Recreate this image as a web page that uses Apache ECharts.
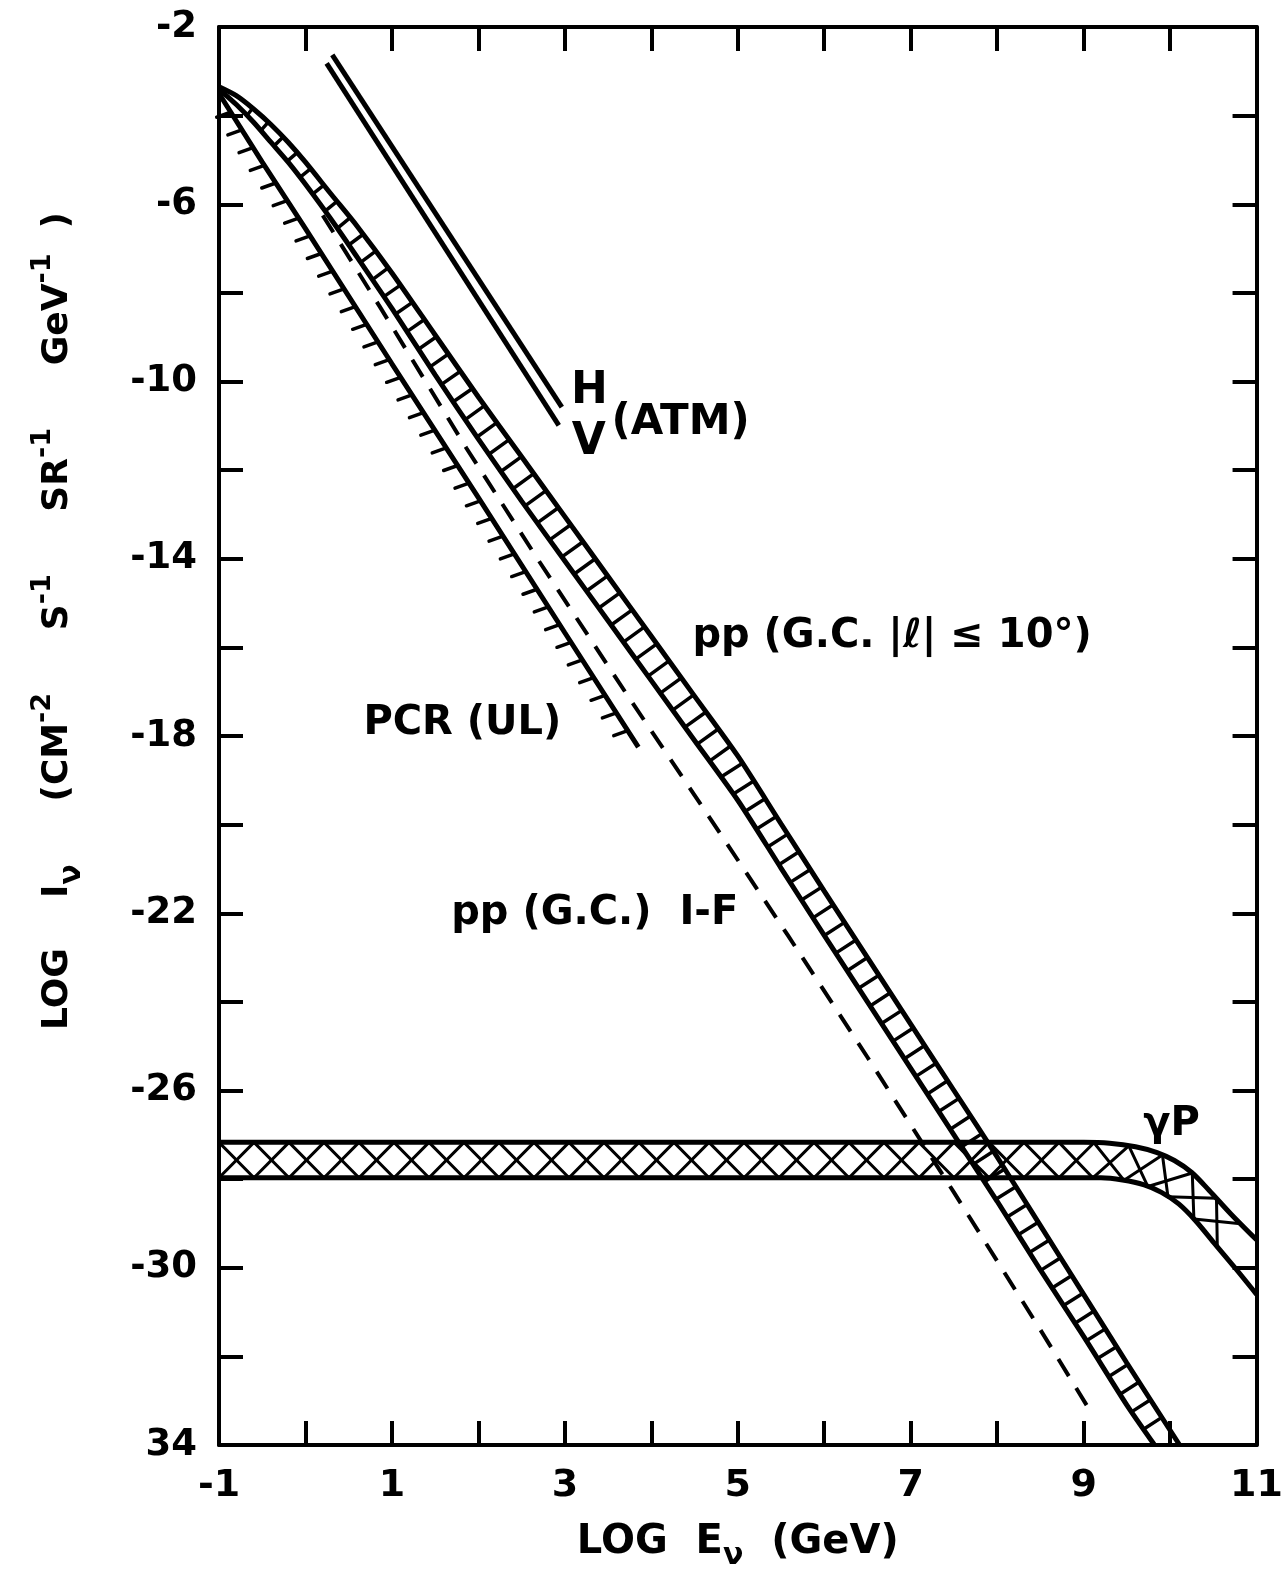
<!DOCTYPE html>
<html>
<head>
<meta charset="utf-8">
<script src="https://cdn.jsdelivr.net/npm/echarts@6/dist/echarts.min.js"></script>
<style>
  html, body { margin:0; padding:0; background:#fff; }
  #chart { width:1286px; height:1576px; }
</style>
</head>
<body>
<div id="chart"></div>
<script>
// axis ticks (log10 E in GeV, log10 I)
const xLabelValues = [-1, 1, 3, 5, 7, 9, 11];
const xLabelText = ['-1', '1', '3', '5', '7', '9', '11'];
const yLabelValues = [-2, -6, -10, -14, -18, -22, -26, -30, -34];
const yLabelText = ['-2', '-6', '-10', '-14', '-18', '-22', '-26', '-30', '34'];

// pp (G.C. |l| <= 10deg) band, upper and lower edge
const ppUpper = [[-1,-3.35],[-0.8,-3.55],[-0.6,-3.85],[-0.4,-4.2],[-0.2,-4.6],[0,-5.05],[0.3,-5.78],[0.6,-6.5],[1,-7.55],[1.5,-8.95],[2,-10.35],[2.5,-11.7],[3,-13.05],[3.5,-14.4],[4,-15.75],[4.5,-17.1],[5,-18.45],[5.5,-19.98],[6,-21.5],[6.5,-23.0],[7,-24.5],[7.5,-26.0],[8,-27.5],[8.5,-29.05],[9,-30.6],[9.5,-32.15],[10.11,-34]];
const ppLower = [[-1,-3.4],[-0.8,-3.75],[-0.6,-4.15],[-0.4,-4.6],[-0.2,-5.05],[0,-5.55],[0.3,-6.35],[0.6,-7.2],[1,-8.35],[1.5,-9.85],[2,-11.3],[2.5,-12.7],[3,-14.05],[3.5,-15.4],[4,-16.75],[4.5,-18.1],[5,-19.45],[5.5,-20.98],[6,-22.5],[6.5,-24.0],[7,-25.5],[7.5,-27.0],[8,-28.5],[8.5,-30.05],[9,-31.55],[9.5,-33.1],[9.82,-34]];
// pp (G.C.) I-F, dashed
const ppIF = [[0.2,-6.25],[0.856,-8.3],[1.86,-11.5],[2.7,-14.05],[3.74,-17.13],[4.66,-19.8],[5.58,-22.5],[6.5,-25.25],[7.5,-28.3],[8.5,-31.4],[9.05,-33.15]];
// PCR upper limit
const pcrUL = [[-1,-3.5],[-0.5,-5.05],[0,-6.55],[1,-9.6],[2,-12.62],[3,-15.67],[3.85,-18.25]];
// atmospheric, horizontal and vertical
const atmH = [[0.31,-2.63],[2.965,-10.58]];
const atmV = [[0.245,-2.82],[2.93,-10.99]];
// gamma p band
const gpUpper = [[-1,-27.17],[9.0,-27.17],[9.3,-27.19],[9.6,-27.27],[9.85,-27.4],[10.05,-27.58],[10.25,-27.85],[10.45,-28.25],[10.7,-28.78],[11,-29.37]];
const gpLower = [[-1,-27.97],[9.2,-27.97],[9.45,-28.02],[9.7,-28.13],[9.9,-28.3],[10.1,-28.56],[10.3,-28.95],[10.5,-29.42],[10.75,-30.0],[11,-30.6]];

// curve labels
const labelText = ['H', 'V', '(ATM)', 'pp (G.C. |ℓ| ≤ 10°)', 'PCR (UL)', 'pp (G.C.)  I-F', 'γP'];
const labelX = [3.07, 3.08, 3.54, 4.475, 0.67, 1.686, 9.69];
const labelY = [-10.23, -11.38, -10.93, -15.76, -17.72, -22.0, -26.76];
const labelSize = [44, 44, 42, 40, 40, 40, 40];

const FONT = 'DejaVu Sans';

// points every `step` px along a pixel polyline
function walk(poly, step, start) {
  const out = [];
  let next = start, acc = 0;
  for (let i = 0; i < poly.length - 1; i++) {
    const a = poly[i], b = poly[i + 1];
    const dx = b[0] - a[0], dy = b[1] - a[1];
    const len = Math.hypot(dx, dy);
    if (!len) continue;
    while (next <= acc + len) {
      const f = (next - acc) / len;
      out.push({ x: a[0] + dx * f, y: a[1] + dy * f, tx: dx / len, ty: dy / len });
      next += step;
    }
    acc += len;
  }
  return out;
}

function cross(ax, ay, bx, by) { return ax * by - ay * bx; }

// first hit of ray p + t*n on polyline
function hit(p, nx, ny, poly) {
  let best = null;
  for (let i = 0; i < poly.length - 1; i++) {
    const a = poly[i], b = poly[i + 1];
    const dx = b[0] - a[0], dy = b[1] - a[1];
    const den = cross(nx, ny, dx, dy);
    if (Math.abs(den) < 1e-9) continue;
    const qx = a[0] - p.x, qy = a[1] - p.y;
    const t = cross(qx, qy, dx, dy) / den;
    const u = cross(qx, qy, nx, ny) / den;
    if (t > 0 && u >= 0 && u <= 1 && (!best || t < best.t)) {
      best = { t: t, x: p.x + nx * t, y: p.y + ny * t };
    }
  }
  return best;
}

function seg(x1, y1, x2, y2, w) {
  return { type: 'line', shape: { x1: x1, y1: y1, x2: x2, y2: y2 },
    style: { stroke: '#000', lineWidth: w, lineCap: 'round' } };
}

// ladder rungs across the pp band
function ladder(params, api) {
  const U = ppUpper.map(p => api.coord(p));
  const L = ppLower.map(p => api.coord(p));
  const kids = [];
  walk(U, 21, 40).forEach(w => {
    const h = hit(w, -w.ty, w.tx, L);
    if (h && h.t > 4) kids.push(seg(w.x, w.y, h.x, h.y, 3.5));
  });
  return { type: 'group', children: kids };
}

// cross hatch in the gamma p band
function crossHatch(params, api) {
  const U = gpUpper.map(p => api.coord(p));
  const L = gpLower.map(p => api.coord(p));
  const up = [], lo = [];
  walk(U, 35, 0).forEach(w => {
    const h = hit(w, -w.ty, w.tx, L);
    if (h) { up.push(w); lo.push(h); }
  });
  const kids = [];
  for (let i = 0; i < up.length - 1; i++) {
    kids.push(seg(up[i].x, up[i].y, lo[i + 1].x, lo[i + 1].y, 3));
    kids.push(seg(lo[i].x, lo[i].y, up[i + 1].x, up[i + 1].y, 3));
  }
  return { type: 'group', children: kids };
}

// short hairs on the lower side of the PCR limit
function limitTicks(params, api) {
  const P = pcrUL.map(p => api.coord(p));
  const kids = [];
  walk(P, 21, 22).forEach(w => {
    kids.push(seg(w.x, w.y, w.x - 14, w.y + 5, 3.5));
  });
  return { type: 'group', children: kids };
}

function lineSeries(data, width, type, smooth) {
  return {
    type: 'line', data: data, symbol: 'none', smooth: smooth || false, silent: true,
    lineStyle: { color: '#000', width: width, type: type || 'solid' },
    z: 3
  };
}

function customSeries(fn) {
  return { type: 'custom', renderItem: fn, data: [[5, -18]], silent: true, z: 2 };
}

const myChart = echarts.init(document.getElementById('chart'));

const axisCommon = {
  type: 'value',
  axisLine: { show: true, onZero: false, lineStyle: { color: '#000', width: 4 } },
  axisTick: { show: true, inside: true, length: 24, lineStyle: { color: '#000', width: 4 } },
  splitLine: { show: false }
};

const option = {
  animation: false,
  backgroundColor: '#fff',
  textStyle: { color: '#000', fontFamily: FONT },
  grid: { left: 219, right: 26, top: 27, bottom: 126 },
  xAxis: [
    Object.assign({}, axisCommon, {
      min: -1, max: 11, interval: 1, position: 'bottom',
      axisLabel: {
        color: '#000', fontSize: 38, fontFamily: FONT, fontWeight: 'bold', margin: 22,
        formatter: v => { const i = xLabelValues.indexOf(v); return i < 0 ? '' : xLabelText[i]; }
      },
      name: '{n|LOG  E}{s|ν}{n|  (GeV)}',
      nameLocation: 'middle', nameGap: 78,
      nameTextStyle: {
        rich: {
          n: { fontSize: 40, fontFamily: FONT, fontWeight: 'bold', color: '#000', lineHeight: 48, verticalAlign: 'top' },
          s: { fontSize: 30, fontFamily: FONT, fontWeight: 'bold', color: '#000', lineHeight: 30, padding: [24, 0, 0, 0], verticalAlign: 'bottom' }
        }
      }
    }),
    Object.assign({}, axisCommon, {
      min: -1, max: 11, interval: 1, position: 'top', axisLabel: { show: false }
    })
  ],
  yAxis: [
    Object.assign({}, axisCommon, {
      min: -34, max: -2, interval: 2, position: 'left',
      axisLabel: {
        color: '#000', fontSize: 37, fontFamily: FONT, fontWeight: 'bold', margin: 22,
        formatter: v => { const i = yLabelValues.indexOf(v); return i < 0 ? '' : yLabelText[i]; }
      }
    }),
    Object.assign({}, axisCommon, {
      min: -34, max: -2, interval: 2, position: 'right', axisLabel: { show: false }
    })
  ],
  graphic: [{
    type: 'text', x: 58, y: 621, rotation: Math.PI / 2, silent: true,
    style: {
      text: '{n|LOG    I}{s|ν}{n|     (CM}{p|-2}{n|     S}{p|-1}{n|     SR}{p|-1}{n|     GeV}{p|-1}{n|  )}',
      align: 'center', verticalAlign: 'middle',
      rich: {
        n: { fontSize: 36, fontFamily: FONT, fontWeight: 'bold', fill: '#000', lineHeight: 58, verticalAlign: 'middle' },
        p: { fontSize: 27, fontFamily: FONT, fontWeight: 'bold', fill: '#000', lineHeight: 27, verticalAlign: 'top' },
        s: { fontSize: 30, fontFamily: FONT, fontWeight: 'bold', fill: '#000', lineHeight: 26, verticalAlign: 'bottom' }
      }
    }
  }],
  series: [
    customSeries(ladder),
    customSeries(crossHatch),
    customSeries(limitTicks),
    lineSeries(ppUpper, 5, null, 0.25),
    lineSeries(ppLower, 5, null, 0.25),
    lineSeries(ppIF, 4, [20, 14]),
    lineSeries(pcrUL, 5),
    lineSeries(atmH, 5),
    lineSeries(atmV, 5),
    lineSeries(gpUpper, 5, null, 0.3),
    lineSeries(gpLower, 5, null, 0.3),
    {
      type: 'scatter', silent: true, symbolSize: 0,
      itemStyle: { color: '#000' },
      data: labelText.map((t, i) => ({
        value: [labelX[i], labelY[i]], name: t,
        label: { fontSize: labelSize[i], color: '#000' }
      })),
      label: {
        show: true, position: 'right', distance: 0, color: '#000', opacity: 1,
        fontFamily: FONT, fontWeight: 'bold', formatter: p => p.name
      },
      z: 4
    }
  ]
};

myChart.setOption(option);
</script>
</body>
</html>
